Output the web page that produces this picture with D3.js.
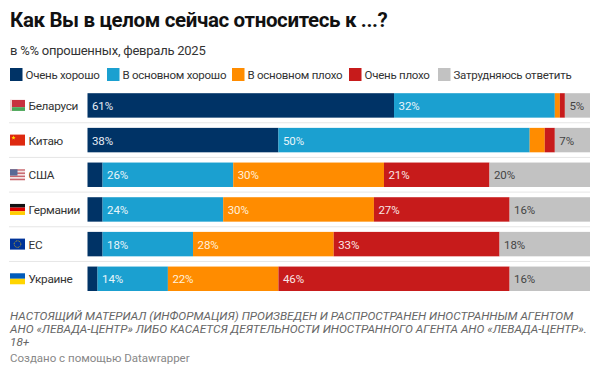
<!DOCTYPE html>
<html>
<head>
<meta charset="utf-8">
<script src="https://cdnjs.cloudflare.com/ajax/libs/d3/7.8.5/d3.min.js"></script>
<style>
    html, body { margin: 0; padding: 0; background: #fff; }
    svg { display: block; font-family: Roboto, sans-serif; }
</style>
</head>
<body>
<div id="chart"></div>
<script>
const countries = ["Беларуси", "Китаю", "США", "Германии", "ЕС", "Украине"];
const categories = ["Очень хорошо", "В основном хорошо", "В основном плохо", "Очень плохо", "Затрудняюсь ответить"];
const veryGood = [61, 38, 3, 3, 3, 2];
const mostlyGood = [32, 50, 26, 24, 18, 14];
const mostlyBad = [1, 3, 30, 30, 28, 22];
const veryBad = [1, 2, 21, 27, 33, 46];
const unsure = [5, 7, 20, 16, 18, 16];
const colors = ["#003366", "#1ba0d0", "#ff8c00", "#c71b1b", "#c2c2c2"];
const labelColors = ["#e8eef5", "#e8f5fa", "#fff0dc", "#f9e6e6", "#444444"];

const title = "Как Вы в целом сейчас относитесь к ...?";
const subtitle = "в %% опрошенных, февраль 2025";
const notes = [
    "НАСТОЯЩИЙ МАТЕРИАЛ (ИНФОРМАЦИЯ) ПРОИЗВЕДЕН И РАСПРОСТРАНЕН ИНОСТРАННЫМ АГЕНТОМ",
    "АНО «ЛЕВАДА-ЦЕНТР» ЛИБО КАСАЕТСЯ ДЕЯТЕЛЬНОСТИ ИНОСТРАННОГО АГЕНТА АНО «ЛЕВАДА-ЦЕНТР».",
    "18+",
];
const credit = "Создано с помощью Datawrapper";

// --------------- Canvas --------------- //

const width = 600,
    height = 374;

const svg = d3.select("#chart").append("svg")
    .attr("width", width)
    .attr("height", height);

svg.append("text")
    .attr("x", 10).attr("y", 27)
    .attr("font-size", 20.5).attr("font-weight", 700)
    .attr("letter-spacing", -0.36)
    .attr("fill", "#111")
    .text(title);

svg.append("text")
    .attr("x", 10).attr("y", 55)
    .attr("font-size", 13).attr("fill", "#333")
    .attr("letter-spacing", -0.24)
    .text(subtitle);

// --------------- Legend --------------- //

const legendX = [10, 107, 232, 349, 438];
const legend = svg.selectAll("g.legend").data(categories).join("g")
    .attr("class", "legend")
    .attr("transform", (d, i) => `translate(${legendX[i]},68)`);
legend.append("rect")
    .attr("width", 12.5).attr("height", 13)
    .attr("fill", (d, i) => colors[i]);
legend.append("text")
    .attr("x", 15.5).attr("y", 10.5)
    .attr("font-size", 11.5).attr("fill", "#333")
    .attr("letter-spacing", -0.25)
    .text(d => d);

// --------------- Bars --------------- //

const rows = countries.map((name, i) => ({
    name,
    0: veryGood[i], 1: mostlyGood[i], 2: mostlyBad[i], 3: veryBad[i], 4: unsure[i],
}));
const stacked = d3.stack().keys([0, 1, 2, 3, 4])(rows);

const x = d3.scaleLinear().domain([0, 100]).range([87.5, 590]);
const y = d3.scaleBand().domain(countries).range([93.2, 291]).paddingInner(0.295);

// row separators
svg.selectAll("line.sep").data(countries.slice(0, -1)).join("line")
    .attr("class", "sep")
    .attr("x1", 9).attr("x2", 590)
    .attr("y1", d => y(d) + y.bandwidth() + (y.step() - y.bandwidth()) / 2)
    .attr("y2", d => y(d) + y.bandwidth() + (y.step() - y.bandwidth()) / 2)
    .attr("stroke", "#e6e6e6");

const series = svg.selectAll("g.series").data(stacked).join("g")
    .attr("class", "series")
    .attr("fill", (d, i) => colors[i]);
series.selectAll("rect").data(d => d).join("rect")
    .attr("x", d => x(d[0]))
    .attr("width", d => x(d[1]) - x(d[0]))
    .attr("y", d => y(d.data.name))
    .attr("height", y.bandwidth());

// value labels, skipped on the thin segments
stacked.forEach((s, i) => {
    svg.selectAll(`text.val${i}`).data(s.filter(d => d[1] - d[0] >= 5)).join("text")
        .attr("class", `val${i}`)
        .attr("x", d => x(d[0]) + 4.5)
        .attr("y", d => y(d.data.name) + y.bandwidth() / 2 + 4.5)
        .attr("font-size", 11.5)
        .attr("letter-spacing", -0.1)
        .attr("fill", labelColors[i])
        .text(d => `${d[1] - d[0]}%`);
});

// --------------- Row labels and flags --------------- //

svg.selectAll("text.country").data(countries).join("text")
    .attr("class", "country")
    .attr("x", 28.5)
    .attr("y", d => y(d) + y.bandwidth() / 2 + 4.5)
    .attr("font-size", 11.8).attr("fill", "#333")
    .attr("letter-spacing", -0.3)
    .text(d => d);

const FLAG_W = 15,
    FLAG_H = 11;

function stripes(g, list) {
    const h = FLAG_H / list.length;
    list.forEach((c, i) => {
        g.append("rect").attr("y", i * h).attr("width", FLAG_W).attr("height", h).attr("fill", c);
    });
}

function star(g, cx, cy, r, fill) {
    const points = d3.range(10).map(i => {
        const a = (i * Math.PI) / 5 - Math.PI / 2;
        const rr = i % 2 ? r * 0.42 : r;
        return [cx + rr * Math.cos(a), cy + rr * Math.sin(a)];
    });
    g.append("polygon").attr("points", points.join(" ")).attr("fill", fill);
}

const flags = {
    "Беларуси": g => {
        g.append("rect").attr("width", FLAG_W).attr("height", FLAG_H * 0.66).attr("fill", "#c8313e");
        g.append("rect").attr("y", FLAG_H * 0.66).attr("width", FLAG_W).attr("height", FLAG_H * 0.34).attr("fill", "#4aa657");
        g.append("rect").attr("width", 2).attr("height", FLAG_H).attr("fill", "#f0d0d0");
    },
    "Китаю": g => {
        g.append("rect").attr("width", FLAG_W).attr("height", FLAG_H).attr("fill", "#de2910");
        star(g, 3.5, 3.2, 2.2, "#ffde00");
    },
    "США": g => {
        stripes(g, ["#c9686f", "#f2e4e4", "#c9686f", "#f2e4e4", "#c9686f", "#f2e4e4", "#c9686f"]);
        g.append("rect").attr("width", 7.5).attr("height", FLAG_H * 4 / 7).attr("fill", "#5a6a96");
    },
    "Германии": g => stripes(g, ["#111", "#dd0000", "#ffce00"]),
    "ЕС": g => {
        g.append("rect").attr("width", FLAG_W).attr("height", FLAG_H).attr("fill", "#003399");
        g.append("circle").attr("cx", FLAG_W / 2).attr("cy", FLAG_H / 2).attr("r", 3.3)
            .attr("fill", "none").attr("stroke", "#ffcc00").attr("stroke-width", 0.7).attr("stroke-dasharray", "1 0.7");
    },
    "Украине": g => stripes(g, ["#005bbb", "#ffd500"]),
};

svg.selectAll("g.flag").data(countries).join("g")
    .attr("class", "flag")
    .attr("transform", d => `translate(10,${y(d) + y.bandwidth() / 2 - FLAG_H / 2})`)
    .each(function (d) { flags[d](d3.select(this)); });

// --------------- Footer --------------- //

svg.selectAll("text.note").data(notes).join("text")
    .attr("class", "note")
    .attr("x", 10)
    .attr("y", (d, i) => 319.5 + i * 13.3)
    .attr("font-size", 11.8).attr("font-style", "italic")
    .attr("fill", "#666")
    .text(d => d);

svg.append("text")
    .attr("x", 10).attr("y", 362)
    .attr("font-size", 11.5).attr("fill", "#888")
    .text(credit);
</script>
</body>
</html>
